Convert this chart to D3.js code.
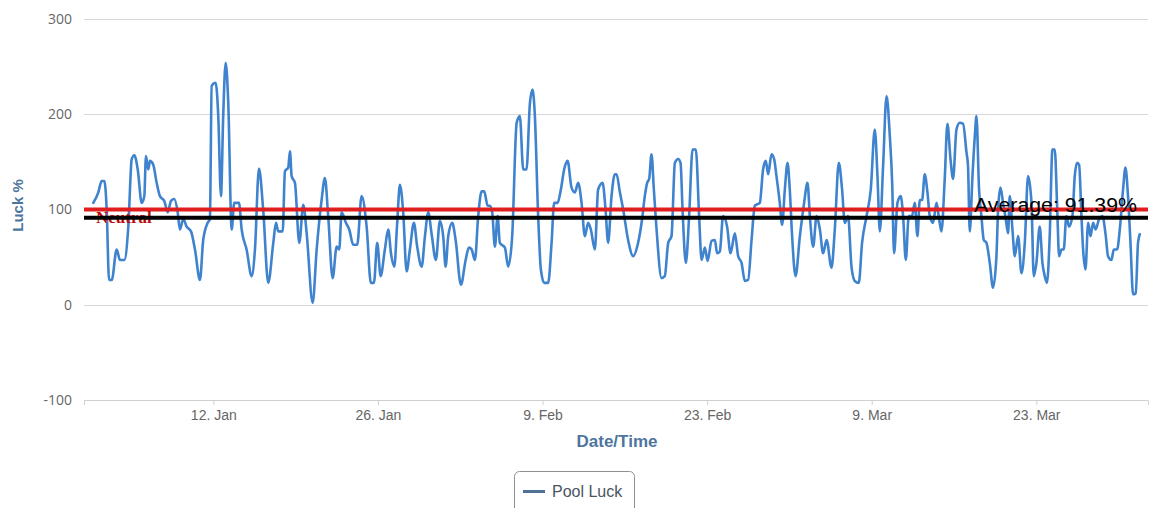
<!DOCTYPE html>
<html>
<head>
<meta charset="utf-8">
<script src="https://cdn.jsdelivr.net/npm/d3@7"></script>
<style>
  html, body { margin: 0; padding: 0; background: #fff; }
  svg { display: block; }
</style>
</head>
<body>
<svg id="chart" width="1156" height="508"></svg>
<script>
// ---- data ----
const startDate = "2015-01-01T00:00:00Z";
const endDate   = "2015-04-01T12:00:00Z";
// days elapsed since startDate for each sample
const days = [0.79,1.22,1.50,1.73,1.93,2.13,2.36,2.78,3.06,3.43,3.77,4.06,4.28,4.57,4.91,5.13,5.27,5.47,5.61,5.89,6.18,6.46,6.83,7.12,7.40,7.68,7.97,8.16,8.44,8.73,9.10,9.44,9.86,10.14,10.52,10.71,10.86,11.20,11.42,11.65,11.84,12.05,12.27,12.56,12.78,13.18,13.41,13.83,14.26,14.54,14.88,15.24,15.67,16.10,16.33,16.52,16.90,17.09,17.37,17.52,17.66,17.94,18.31,18.65,18.94,19.45,19.79,20.21,20.49,20.77,21.15,21.49,21.71,21.91,22.28,22.56,22.90,23.24,23.61,24.04,24.40,24.66,24.94,25.23,25.59,25.88,26.11,26.39,26.64,26.87,27.15,27.44,27.72,28.06,28.34,28.72,29.00,29.28,29.57,29.93,30.27,30.55,30.76,30.98,31.32,31.61,32.06,32.46,32.74,32.97,33.25,33.53,33.82,34.04,34.33,34.52,34.72,34.95,35.18,35.37,35.80,36.08,36.42,36.80,37.07,37.36,37.64,37.93,38.15,38.35,38.63,38.86,39.14,39.48,39.77,39.99,40.28,40.56,40.84,41.13,41.47,41.75,42.03,42.32,42.60,42.88,43.11,43.45,43.73,44.11,44.36,44.58,44.87,45.15,45.30,45.58,45.86,46.28,46.71,47.13,47.47,47.70,47.90,48.07,48.27,48.47,48.70,49.12,49.40,49.69,49.97,50.26,50.54,50.74,50.91,51.19,51.47,51.76,52.04,52.32,52.53,52.81,53.04,53.38,53.66,53.85,54.08,54.36,54.70,54.99,55.36,55.64,55.93,56.21,56.49,56.78,57.06,57.48,57.76,57.99,58.19,58.48,58.70,58.90,59.18,59.38,59.61,59.84,60.03,60.23,60.52,60.89,61.25,61.54,61.74,62.02,62.31,62.59,62.87,63.16,63.58,63.86,64.20,64.48,64.71,64.99,65.28,65.56,65.90,66.18,66.56,66.92,67.26,67.49,67.69,67.97,68.26,68.54,68.74,68.90,69.19,69.47,69.67,69.90,70.15,70.43,70.66,70.89,71.09,71.29,71.51,71.74,71.94,72.22,72.51,72.70,72.93,73.21,73.44,73.70,73.92,74.21,74.49,74.77,75.06,75.19,75.34,75.57,75.77,75.91,76.13,76.33,76.53,76.76,77.04,77.32,77.61,77.75,77.95,78.17,78.40,78.60,78.74,78.97,79.17,79.45,79.74,80.02,80.30,80.59,80.78,81.01,81.29,81.52,81.72,81.91,82.14,82.37,82.57,82.77,82.94,83.14,83.33,83.56,83.79,84.07,84.27,84.47,84.64,84.84,84.98,85.18,85.41,85.61,85.83,86.05,86.34,86.62,86.91,87.10,87.39,87.59,87.87,88.10,88.38,88.58,88.80,89.01,89.23,89.46,89.65,89.80];
// pool luck % for each sample
const luck = [107,118,130,130,100,26,26,58,47,47,82,153,157,142,107,114,156,142,151,147,128,114,109,97,109,111,97,79,90,82,77,58,26,68,86,90,230,233,198,114,198,254,212,79,107,107,79,58,30,58,143,100,23,65,86,77,77,140,144,161,135,128,65,105,75,2,58,110,133,93,28,61,58,97,86,79,63,63,114,82,23,23,65,30,58,79,54,40,86,126,97,35,58,86,61,40,72,97,74,47,88,72,40,72,86,68,21,47,60,58,47,93,119,119,104,104,97,61,93,65,60,40,72,191,198,142,142,212,226,198,93,37,23,23,65,107,107,121,142,151,123,118,128,107,72,86,79,58,121,128,100,65,114,137,137,118,100,68,51,65,90,114,128,132,158,121,79,28,30,65,72,149,153,149,100,44,93,163,163,93,47,60,46,67,68,54,56,93,82,54,75,51,44,25,26,68,104,107,142,151,137,158,153,135,107,84,121,149,121,72,30,72,107,128,93,61,93,79,54,68,39,79,149,121,86,93,40,25,23,65,93,121,184,135,77,146,219,177,128,54,107,114,93,47,93,93,107,72,110,110,137,118,93,86,107,93,77,132,190,153,132,184,191,190,160,146,77,135,177,198,121,93,68,65,44,18,51,100,123,107,90,75,114,79,51,72,33,65,135,107,30,44,82,44,30,23,72,163,163,104,51,58,58,93,82,93,135,149,147,93,58,37,86,72,86,79,90,93,72,51,47,58,58,79,121,144,114,65,11,12,65,74];
const seriesName = "Pool Luck";
const neutralValue = 100;
const neutralLabel = "Neutral";
const averageValue = 91.39;
const yTicks = [-100, 0, 100, 200, 300];
const xTickDates = ["2015-01-12","2015-01-26","2015-02-09","2015-02-23","2015-03-09","2015-03-23"];
const yTitle = "Luck %";
const xTitle = "Date/Time";

// ---- layout ----
const plot = { left: 84, right: 1148, top: 19, bottom: 400 };
const svg = d3.select("#chart");

const t0 = new Date(startDate).getTime();
const points = days.map((d, i) => ({ date: new Date(t0 + d * 864e5), value: luck[i] }));

const x = d3.scaleUtc()
  .domain([new Date(startDate), new Date(endDate)])
  .range([plot.left, plot.right]);
const y = d3.scaleLinear()
  .domain([-100, 300])
  .range([plot.bottom, plot.top]);

// gridlines
svg.append("g").selectAll("line").data(yTicks).join("line")
  .attr("x1", plot.left).attr("x2", plot.right)
  .attr("y1", d => Math.round(y(d)) + 0.5).attr("y2", d => Math.round(y(d)) + 0.5)
  .attr("stroke", "#d8d8d8").attr("stroke-width", 1);

// y axis labels
const yAxis = d3.axisLeft(y).tickValues(yTicks).tickSize(0).tickPadding(12).tickFormat(d => String(d));
const gy = svg.append("g").attr("transform", `translate(${plot.left},0)`).call(yAxis);
gy.select(".domain").remove();
gy.selectAll("text").attr("font-family", "'Open Sans', 'Liberation Sans', sans-serif")
  .attr("font-size", 14).attr("fill", "#666");

// x axis
const xAxis = d3.axisBottom(x)
  .tickValues(xTickDates.map(s => new Date(s + "T00:00:00Z")))
  .tickFormat(d3.utcFormat("%-d. %b"))
  .tickSize(5).tickPadding(5);
const gx = svg.append("g").attr("transform", `translate(0,${plot.bottom})`).call(xAxis);
gx.select(".domain").attr("stroke", "#d0d0d0");
gx.selectAll(".tick line").attr("stroke", "#d0d0d0");
gx.selectAll("text").attr("font-family", "'Liberation Sans', Arial, sans-serif")
  .attr("font-size", 14).attr("fill", "#666");

// axis titles
svg.append("text")
  .attr("transform", `translate(23,${(plot.top + plot.bottom) / 2 - 4}) rotate(-90)`)
  .attr("text-anchor", "middle")
  .attr("font-family", "'Liberation Sans', Arial, sans-serif")
  .attr("font-weight", "bold").attr("font-size", 15).attr("fill", "#4d759e")
  .text(yTitle);
svg.append("text")
  .attr("x", (plot.left + plot.right) / 2 + 1).attr("y", 447)
  .attr("text-anchor", "middle")
  .attr("font-family", "'Liberation Sans', Arial, sans-serif")
  .attr("font-weight", "bold").attr("font-size", 17).attr("fill", "#4d759e")
  .text(xTitle);

// series line
const line = d3.line().x(d => x(d.date)).y(d => y(d.value)).curve(d3.curveMonotoneX);
svg.append("path").datum(points)
  .attr("d", line)
  .attr("fill", "none").attr("stroke", "#3f83cf")
  .attr("stroke-width", 2.6).attr("stroke-linejoin", "round").attr("stroke-linecap", "round");

// neutral plot line
svg.append("line")
  .attr("x1", plot.left).attr("x2", plot.right)
  .attr("y1", y(neutralValue)).attr("y2", y(neutralValue))
  .attr("stroke", "#e01e1e").attr("stroke-width", 4);
svg.append("text")
  .attr("x", plot.left + 12).attr("y", y(neutralValue) + 13)
  .attr("font-family", "'Liberation Serif', serif").attr("font-weight", "bold")
  .attr("font-size", 17).attr("fill", "#b80d0d")
  .text(neutralLabel);

// average plot line
svg.append("line")
  .attr("x1", plot.left).attr("x2", plot.right)
  .attr("y1", y(averageValue)).attr("y2", y(averageValue))
  .attr("stroke", "#000").attr("stroke-width", 4);
svg.append("text")
  .attr("x", 1137).attr("y", y(averageValue) - 5.5)
  .attr("text-anchor", "end")
  .attr("font-family", "'Liberation Sans', Arial, sans-serif")
  .attr("font-size", 20).attr("fill", "#000")
  .attr("textLength", 163).attr("lengthAdjust", "spacingAndGlyphs")
  .text(`Average: ${averageValue.toFixed(2)}%`);

// legend
const lg = svg.append("g");
lg.append("rect")
  .attr("x", 514.5).attr("y", 471.5).attr("width", 120).attr("height", 50).attr("rx", 5)
  .attr("fill", "#fff").attr("stroke", "#909090").attr("stroke-width", 1);
lg.append("line")
  .attr("x1", 523).attr("x2", 545).attr("y1", 491.5).attr("y2", 491.5)
  .attr("stroke", "#4f7196").attr("stroke-width", 3);
lg.append("text")
  .attr("x", 552).attr("y", 497)
  .attr("font-family", "'Liberation Sans', Arial, sans-serif")
  .attr("font-size", 16).attr("fill", "#4a5560")
  .text(seriesName);
</script>
</body>
</html>
